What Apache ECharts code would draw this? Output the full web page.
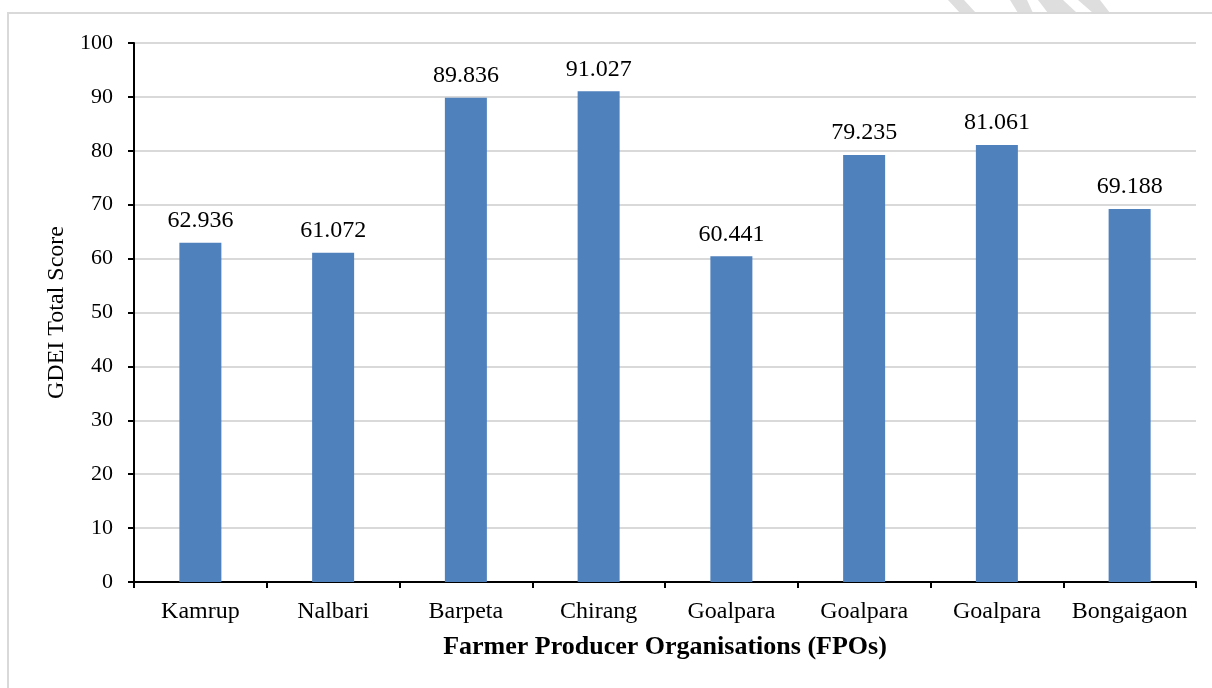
<!DOCTYPE html>
<html>
<head>
<meta charset="utf-8">
<style>
  html, body { margin: 0; padding: 0; background: #ffffff; }
  #chart { width: 1212px; height: 688px; }
</style>
<script src="https://cdn.jsdelivr.net/npm/echarts@6/dist/echarts.min.js"></script>
</head>
<body>
<div id="chart"></div>
<script>
const categories = ['Kamrup', 'Nalbari', 'Barpeta', 'Chirang', 'Goalpara', 'Goalpara', 'Goalpara', 'Bongaigaon'];
const scores = [62.936, 61.072, 89.836, 91.027, 60.441, 79.235, 81.061, 69.188];
const yTicks = [0, 10, 20, 30, 40, 50, 60, 70, 80, 90, 100];
const xTitle = 'Farmer Producer Organisations (FPOs)';
const yTitle = 'GDEI Total Score';

const font = '"Liberation Serif", "Times New Roman", serif';
const chart = echarts.init(document.getElementById('chart'), null, { renderer: 'canvas' });

const stripeColor = '#dedede';
const stripes = [
  [[948, 0], [964, 0], [976, 13], [960, 13]],
  [[1010, 0], [1027, 0], [1033, 13], [1018, 13]],
  [[1038, 0], [1063, 0], [1077, 13], [1048, 13]],
  [[1078, 0], [1100, 0], [1110, 13], [1093, 13]]
];

chart.setOption({
  animation: false,
  backgroundColor: '#ffffff',
  textStyle: { fontFamily: font },
  graphic: [
    ...stripes.map(p => ({ type: 'polygon', shape: { points: p }, style: { fill: stripeColor }, silent: true, z: -10 })),
    { type: 'rect', shape: { x: 8, y: 13, width: 1240, height: 720 }, style: { fill: 'rgba(0,0,0,0)', stroke: '#d9d9d9', lineWidth: 2 }, silent: true, z: -5 }
  ],
  grid: { left: 134, right: 16, top: 43, bottom: 106, containLabel: false },
  xAxis: [
    {
      type: 'category',
      data: categories,
      boundaryGap: true,
      position: 'bottom',
      axisLine: { show: true, lineStyle: { color: '#000000', width: 2 } },
      axisTick: { show: true, inside: false, length: 6, lineStyle: { color: '#000000', width: 2 } },
      axisLabel: { show: true, color: '#000000', fontSize: 24, fontFamily: font, margin: 18, interval: 0 },
      splitLine: { show: false },
      name: xTitle,
      nameLocation: 'middle',
      nameGap: 52,
      nameTextStyle: { color: '#000000', fontSize: 26, fontWeight: 'bold', fontFamily: font }
    },
    {
      type: 'category',
      data: categories,
      boundaryGap: true,
      position: 'bottom',
      axisLine: { show: false },
      axisTick: { show: true, inside: true, alignWithLabel: true, length: 5, lineStyle: { color: '#000000', width: 2 } },
      axisLabel: { show: false },
      splitLine: { show: false }
    }
  ],
  yAxis: {
    type: 'value',
    min: 0,
    max: 100,
    interval: 10,
    axisLine: { show: true, lineStyle: { color: '#000000', width: 2 } },
    axisTick: { show: true, inside: false, length: 6, lineStyle: { color: '#000000', width: 2 } },
    axisLabel: {
      color: '#000000', fontSize: 22, fontFamily: font, margin: 21,
      formatter: v => (yTicks.indexOf(v) >= 0 ? String(v) : '')
    },
    splitLine: { show: true, lineStyle: { color: '#d9d9d9', width: 2 } },
    name: yTitle,
    nameLocation: 'middle',
    nameGap: 64,
    nameRotate: 90,
    nameTextStyle: { color: '#000000', fontSize: 24, fontFamily: font }
  },
  series: [{
    type: 'bar',
    data: scores,
    xAxisIndex: 0,
    barWidth: 42,
    itemStyle: { color: '#4f81bd' },
    label: {
      show: true,
      position: 'top',
      distance: 10,
      color: '#000000',
      fontSize: 24,
      fontFamily: font,
      formatter: p => p.value.toFixed(3)
    }
  }]
});
</script>
</body>
</html>
